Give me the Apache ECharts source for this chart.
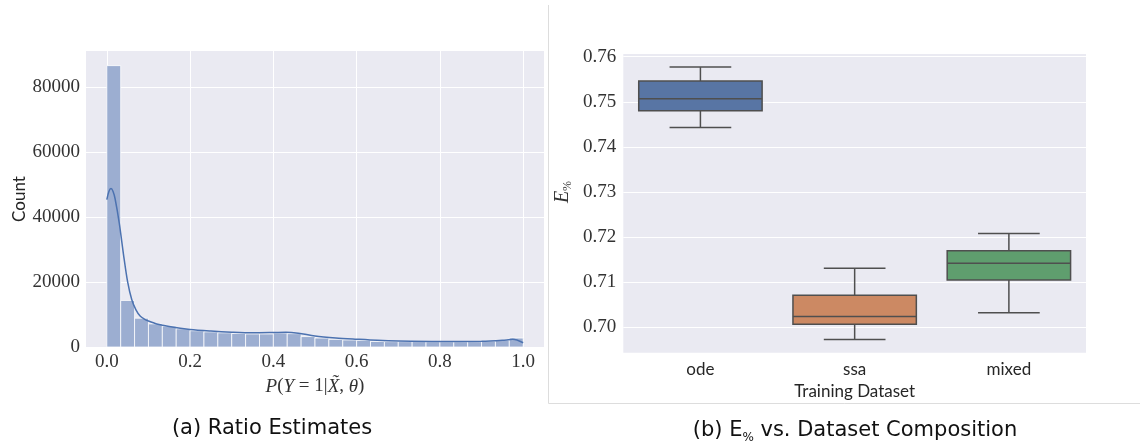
<!DOCTYPE html>
<html>
<head>
<meta charset="utf-8">
<script src="https://cdn.jsdelivr.net/npm/echarts@6/dist/echarts.min.js"></script>
<style>
  html, body { margin: 0; padding: 0; background: #fff; }
  #main { width: 1140px; height: 445px; }
</style>
</head>
<body>
<div id="main"></div>
<script>
// histogram of ratio estimates (30 bins over [0, 1])
var binCount = 30;
var histCounts = [86500, 14300, 8850, 7100, 6400, 5600, 5000, 4650, 4350, 4150,
                  4000, 4000, 4300, 4100, 3200, 2750, 2350, 2150, 2050, 1700,
                  1650, 1650, 1650, 1600, 1600, 1600, 1650, 1800, 2100, 2750];

// kde curve
var kdeX = [0.0, 0.005, 0.01, 0.015, 0.02, 0.03, 0.04, 0.05, 0.06, 0.07, 0.08, 0.09, 0.1, 0.12,
            0.15, 0.2, 0.25, 0.3, 0.35, 0.4, 0.43, 0.46, 0.5, 0.55, 0.6, 0.65, 0.7, 0.8,
            0.9, 0.95, 0.975, 1.0];
var kdeY = [45300, 47800, 48700, 47800, 45500, 38000, 28500, 20000, 14500, 11400, 9500, 8600, 8000, 7100,
            6300, 5400, 4900, 4550, 4350, 4450, 4550, 4250, 3400, 2800, 2400, 2050, 1850, 1700,
            1750, 2050, 2350, 1300];

// box plot: whisker low, q1, median, q3, whisker high
var datasets = ['ode', 'ssa', 'mixed'];
var boxLow = [0.7443, 0.6973, 0.7032];
var boxQ1 = [0.7480, 0.7007, 0.7105];
var boxMed = [0.7507, 0.7024, 0.7142];
var boxQ3 = [0.7546, 0.7071, 0.7170];
var boxHigh = [0.7577, 0.7131, 0.7208];
var boxColors = ['#5875a4', '#cc8963', '#5f9e6e'];

var bg = '#eaeaf2';
var serif = 'Liberation Serif';
var sans = 'Lato';
var textColor = '#333';

var chart = echarts.init(document.getElementById('main'));

var binW = 1 / binCount;
var histData = histCounts.map(function (c, i) {
    return [i * binW, (i + 1) * binW, c];
});
var kdeData = kdeX.map(function (x, i) {
    return [x, kdeY[i]];
});
var boxData = datasets.map(function (d, i) {
    return [i, boxLow[i], boxQ1[i], boxMed[i], boxQ3[i], boxHigh[i]];
});

var tickFont = { fontFamily: serif, fontSize: 19, color: textColor };

option = {
    animation: false,
    title: [{
        text: '(a) Ratio Estimates',
        left: 272, top: 418, textAlign: 'center', padding: 0,
        textStyle: { fontFamily: 'DejaVu Sans', fontSize: 21, fontWeight: 'normal', color: '#111' }
    }, {
        text: '(b) E{s|%} vs. Dataset Composition',
        left: 855, top: 418, textAlign: 'center', padding: 0,
        textStyle: {
            fontFamily: 'DejaVu Sans', fontSize: 21, fontWeight: 'normal', color: '#111', lineHeight: 26,
            rich: { s: { fontFamily: 'DejaVu Sans', fontSize: 12, color: '#111', lineHeight: 26, verticalAlign: 'bottom' } }
        }
    }],
    graphic: [{
        type: 'line', shape: { x1: 548.5, y1: 5, x2: 548.5, y2: 403.5 },
        style: { stroke: '#dddddd', lineWidth: 1 }
    }, {
        type: 'line', shape: { x1: 548.5, y1: 403.5, x2: 1140, y2: 403.5 },
        style: { stroke: '#dddddd', lineWidth: 1 }
    }],
    grid: [
        // histogram background + y grid
        { left: 86, top: 51, width: 458, height: 296, show: true, backgroundColor: bg, borderWidth: 0 },
        // histogram x ticks (0..1)
        { left: 106.8, top: 51, width: 416.4, height: 296, show: false },
        // box plot background + categories
        { left: 623.3, top: 54, width: 462.7, height: 298.7, show: true, backgroundColor: bg, borderWidth: 0 },
        // box plot y ticks (0.70..0.76)
        { left: 623.3, top: 56.7, width: 462.7, height: 270.6, show: false }
    ],
    xAxis: [{
        gridIndex: 0, type: 'value', min: -0.05, max: 1.05, show: false
    }, {
        gridIndex: 1, type: 'value', min: 0, max: 1, interval: 0.2,
        axisLine: { show: false }, axisTick: { show: false },
        axisLabel: Object.assign({ margin: 6, formatter: function (v) { return v.toFixed(1); } }, tickFont),
        splitLine: { lineStyle: { color: '#fff', width: 1 } },
        name: '{i|P}(' + '{i|Y} = 1|' + '{i|X̃}, ' + '{i|θ})',
        nameLocation: 'middle', nameGap: 30,
        nameTextStyle: {
            fontFamily: serif, fontSize: 19, color: textColor,
            rich: { i: { fontFamily: serif, fontSize: 19, fontStyle: 'italic', color: textColor } }
        }
    }, {
        gridIndex: 2, type: 'category', data: datasets,
        axisLine: { show: false }, axisTick: { show: false },
        axisLabel: { margin: 8, fontFamily: sans, fontSize: 17, color: '#262626' },
        splitLine: { show: false },
        name: 'Training Dataset', nameLocation: 'middle', nameGap: 28,
        nameTextStyle: { fontFamily: sans, fontSize: 17, color: '#262626' }
    }, {
        gridIndex: 3, type: 'value', min: 0, max: 1, show: false
    }],
    yAxis: [{
        gridIndex: 0, type: 'value', min: 0, max: 91000, interval: 20000,
        axisLine: { show: false }, axisTick: { show: false },
        axisLabel: Object.assign({ margin: 6, showMaxLabel: false, formatter: function (v) { return String(v); } }, tickFont),
        splitLine: { showMaxLine: false, lineStyle: { color: '#fff', width: 1 } },
        name: 'Count', nameLocation: 'middle', nameGap: 58,
        nameTextStyle: { fontFamily: sans, fontSize: 17, color: '#262626' }
    }, {
        gridIndex: 1, type: 'value', min: 0, max: 91000, show: false
    }, {
        gridIndex: 2, type: 'value', min: 0.694368, max: 0.760599, show: false
    }, {
        gridIndex: 3, type: 'value', min: 0.70, max: 0.76, interval: 0.01,
        axisLine: { show: false }, axisTick: { show: false },
        axisLabel: Object.assign({ margin: 7, formatter: function (v) { return v.toFixed(2); } }, tickFont),
        splitLine: { lineStyle: { color: '#fff', width: 1 } },
        name: '{i|E}{s|%}', nameLocation: 'middle', nameGap: 49,
        nameTextStyle: {
            lineHeight: 24,
            rich: {
                i: { fontFamily: serif, fontSize: 20, fontStyle: 'italic', color: textColor, lineHeight: 24 },
                s: { fontFamily: serif, fontSize: 12, color: textColor, lineHeight: 24, verticalAlign: 'bottom' }
            }
        }
    }],
    series: [{
        type: 'custom',
        xAxisIndex: 0, yAxisIndex: 0,
        data: histData,
        encode: { x: [0, 1], y: 2 },
        renderItem: function (params, api) {
            var p0 = api.coord([api.value(0), api.value(2)]);
            var p1 = api.coord([api.value(1), 0]);
            return {
                type: 'rect',
                shape: { x: p0[0], y: p0[1], width: p1[0] - p0[0], height: p1[1] - p0[1] },
                style: { fill: '#9caed1', stroke: 'rgba(255,255,255,0.75)', lineWidth: 1 }
            };
        },
        z: 2
    }, {
        type: 'line',
        xAxisIndex: 0, yAxisIndex: 0,
        data: kdeData,
        showSymbol: false,
        smooth: 0.3,
        lineStyle: { color: '#4c72b0', width: 1.5 },
        z: 3
    }, {
        type: 'custom',
        xAxisIndex: 2, yAxisIndex: 2,
        data: boxData,
        encode: { x: 0, y: [1, 2, 3, 4, 5] },
        renderItem: function (params, api) {
            var cat = api.value(0);
            var lo = api.coord([cat, api.value(1)]);
            var q1 = api.coord([cat, api.value(2)]);
            var med = api.coord([cat, api.value(3)]);
            var q3 = api.coord([cat, api.value(4)]);
            var hi = api.coord([cat, api.value(5)]);
            var bandW = api.size([1, 0])[0];
            var half = bandW * 0.4;
            var cap = bandW * 0.2;
            var cx = med[0];
            var line = { stroke: '#4f4f4f', lineWidth: 1.5 };
            return {
                type: 'group',
                children: [
                    { type: 'line', shape: { x1: cx, y1: q3[1], x2: cx, y2: hi[1] }, style: line },
                    { type: 'line', shape: { x1: cx, y1: q1[1], x2: cx, y2: lo[1] }, style: line },
                    { type: 'line', shape: { x1: cx - cap, y1: hi[1], x2: cx + cap, y2: hi[1] }, style: line },
                    { type: 'line', shape: { x1: cx - cap, y1: lo[1], x2: cx + cap, y2: lo[1] }, style: line },
                    {
                        type: 'rect',
                        shape: { x: cx - half, y: q3[1], width: half * 2, height: q1[1] - q3[1] },
                        style: { fill: boxColors[params.dataIndex], stroke: '#4f4f4f', lineWidth: 1.5 }
                    },
                    { type: 'line', shape: { x1: cx - half, y1: med[1], x2: cx + half, y2: med[1] }, style: line }
                ]
            };
        },
        z: 2
    }]
};

chart.setOption(option);
</script>
</body>
</html>
